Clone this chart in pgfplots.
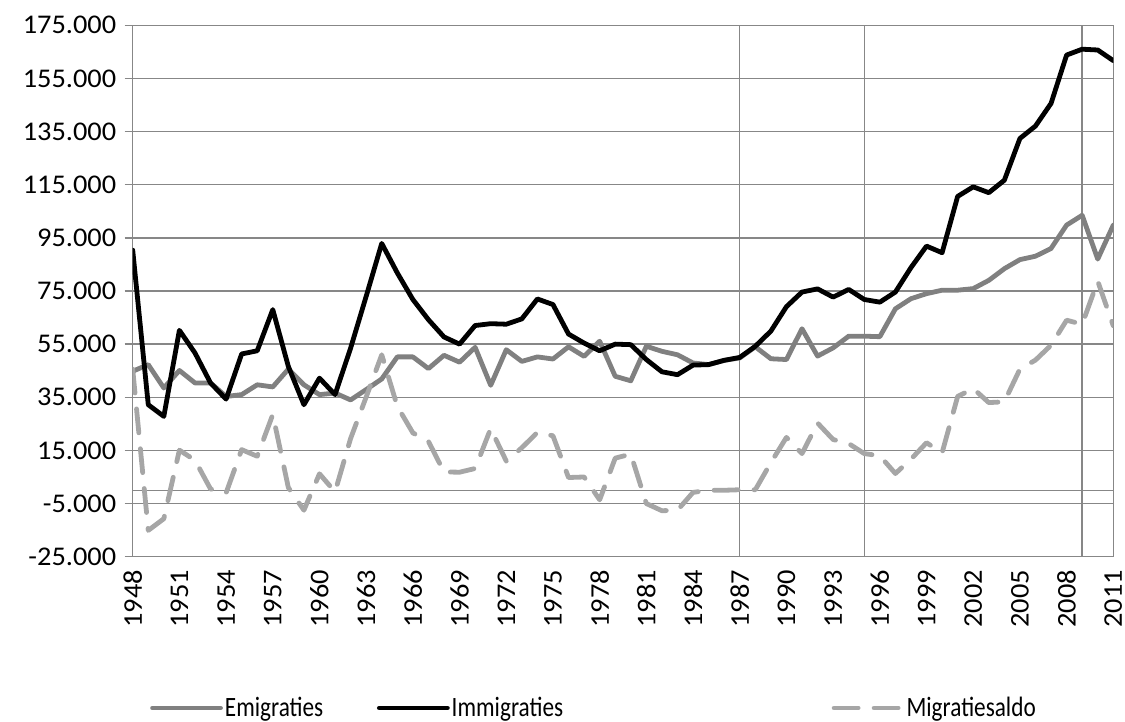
\documentclass[border=0pt]{standalone}
\usepackage{fontspec}
\setmainfont{Carlito}
\newfontfamily\legendfont{Carlito}[FakeStretch=0.83]
\newfontfamily\tickfont{Carlito}[FakeStretch=1.05]
\usepackage{pgfplots}
\usepackage{pgfplotstable}
\pgfplotsset{compat=1.18}
\definecolor{emi}{HTML}{808080}
\definecolor{saldo}{HTML}{A6A6A6}
\definecolor{gridc}{HTML}{878787}

\pgfplotstableread{
year emi imm saldo
1948 44.8 90.4 45.6
1949 47.3 32.2 -15.1
1950 38.5 27.8 -10.7
1951 45.1 60.2 15.1
1952 40.4 51.7 11.3
1953 40.4 40.4 0.5
1954 35.3 34.3 -1.0
1955 36.0 51.3 15.3
1956 39.7 52.5 12.8
1957 38.9 68.0 28.5
1958 45.6 46.6 1.0
1959 39.7 32.2 -7.5
1960 36.0 42.2 6.2
1961 36.6 36.0 -0.6
1962 34.0 53.5 19.5
1963 37.9 73.0 35.1
1964 41.9 92.9 51.0
1965 50.2 81.8 31.6
1966 50.2 71.8 21.6
1967 45.8 64.2 18.4
1968 50.8 57.7 6.9
1969 48.2 55.0 6.8
1970 53.8 62.0 8.2
1971 39.5 62.7 23.2
1972 52.9 62.5 11.0
1973 48.5 64.5 16.0
1974 50.2 72.0 21.8
1975 49.4 69.9 20.5
1976 54.0 58.8 4.8
1977 50.4 55.4 5.0
1978 56.1 52.5 -3.6
1979 42.9 55.0 12.1
1980 41.2 54.8 13.6
1981 54.2 49.2 -5.0
1982 52.3 44.6 -7.7
1983 51.0 43.5 -7.5
1984 47.9 47.1 -0.8
1985 47.3 47.3 0.0
1986 48.9 48.9 0.0
1987 49.8 50.0 0.2
1988 54.0 54.2 0.2
1989 49.5 59.9 10.4
1990 49.2 69.1 19.9
1991 60.8 74.6 13.8
1992 50.5 75.8 25.3
1993 53.6 72.7 19.1
1994 58.0 75.6 17.6
1995 58.0 71.8 13.8
1996 57.8 70.8 13.0
1997 68.3 74.6 6.3
1998 72.1 83.8 11.7
1999 74.0 91.9 17.9
2000 75.3 89.4 14.1
2001 75.3 110.6 35.3
2002 75.9 114.2 38.3
2003 79.0 112.0 33.0
2004 83.4 116.7 33.3
2005 86.8 132.4 45.6
2006 88.1 137.1 49.0
2007 91.0 145.6 54.6
2008 99.8 163.8 64.0
2009 103.5 166.0 62.5
2010 87.0 165.7 78.7
2011 99.8 161.7 61.9
}\migdata

\begin{document}
\begin{tikzpicture}
\useasboundingbox (-132.7pt,-165.3pt) rectangle (992.3pt,556.7pt);
\begin{axis}[
  at={(0pt,0pt)}, anchor=south west,
  scale only axis, width=980.6pt, height=531.4pt,
  xmin=1948, xmax=2011, ymin=-25, ymax=175,
  axis line style={gridc, line width=1.5pt},
  ytick={-25,-5,15,35,55,75,95,115,135,155,175},
  yticklabels={-25.000,-5.000,15.000,35.000,55.000,75.000,95.000,115.000,135.000,155.000,175.000},
  xtick={1948,1951,...,2011},
  ymajorgrids,
  grid style={gridc, line width=1.5pt},
  tick align=outside,
  ytick pos=left, xtick pos=bottom,
  major tick length=8pt,
  ytick style={gridc, line width=1.5pt},
  xtick style={draw=none},
  extra y ticks={0}, extra y tick labels={},
  extra y tick style={grid=major, major tick length=0pt},
  extra x ticks={1987,1995,2009}, extra x tick labels={},
  extra x tick style={grid=major, major tick length=0pt},
  /pgf/number format/assume math mode=true,
  ticklabel style={font=\tickfont\fontsize{27}{30}\selectfont},
  yticklabel style={anchor=east, xshift=-5pt},
  xticklabel style={rotate=90, anchor=east, inner sep=1pt, /pgf/number format/1000 sep={}},
  xticklabel shift=4pt,
  legend style={at={(0.0176,-0.2847)}, anchor=west, draw=none, fill=none,
    font=\legendfont\fontsize{28}{30}\selectfont, inner sep=0pt,
    /tikz/every even column/.append style={column sep=0pt}},
  legend columns=3,
  legend cell align=left,
  legend image code/.code={\draw[#1] (0pt,0pt) -- (68pt,0pt);},
  every axis plot/.append style={line width=4.8pt, line join=round},
]
\addplot[emi, line cap=round] table[x=year, y=emi] {\migdata};
\addlegendentry{\makebox[150pt][l]{Emigraties}}
\addplot[black, line cap=round] table[x=year, y=imm] {\migdata};
\addlegendentry{\makebox[378pt][l]{Immigraties}}
\addplot[saldo, line cap=round, dash pattern=on 24pt off 16pt] table[x=year, y=saldo] {\migdata};
\addlegendentry{Migratiesaldo}
\end{axis}
\end{tikzpicture}
\end{document}
